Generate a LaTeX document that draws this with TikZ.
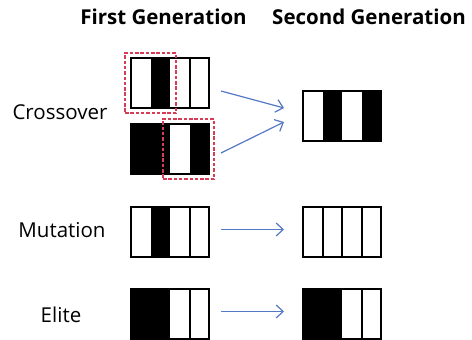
\documentclass[tikz,border=0pt]{standalone}
\usepackage{fontspec}
\setmainfont{Open Sans}
\usetikzlibrary{arrows.meta}
\definecolor{arrowblue}{RGB}{84,120,196}
\definecolor{dashred}{RGB}{214,60,86}
\begin{document}
\begin{tikzpicture}[x=1pt,y=-1pt,
  chrom/.style={draw=black,line width=2pt,inner sep=0pt,minimum width=78pt,minimum height=50pt},
  cellsep/.style={line width=2pt},
  sel/.style={draw=dashred,line width=1.3pt,dash pattern=on 3.5pt off 1.8pt},
  conn/.style={draw=arrowblue,line width=1.2pt,-{Straight Barb[length=7pt,width=13pt,line width=1.2pt]}},
  lbl/.style={font=\fontsize{20.5}{22}\selectfont,inner sep=0pt},
  hdr/.style={font=\fontsize{20.5}{22}\selectfont\bfseries,inner sep=0pt}]
\useasboundingbox (0,0) rectangle (472,340);
% headers
\node[hdr] (h1) at (163.5,17) {First Generation};
\node[hdr] (h2) at (369,17) {Second Generation};
% labels
\node[lbl] (lc) at (60,112) {Crossover};
\node[lbl] (lm) at (62,230) {Mutation};
\node[lbl] (le) at (61,315) {Elite};
% crossover parent 1
\fill (150.5,58) rectangle (170,108);
\draw[cellsep] (189.5,58) -- (189.5,108);
\node[chrom] (p1) at (170,83) {};
% crossover parent 2
\fill (131,124) rectangle (170,174);
\fill (189.5,124) rectangle (209,174);
\node[chrom] (p2) at (170,149) {};
% selections
\node[sel,minimum width=51pt,minimum height=60pt,inner sep=0pt] (s1) at (150.5,83) {};
\node[sel,minimum width=51pt,minimum height=60pt,inner sep=0pt] (s2) at (188.5,149) {};
% crossover child
\fill (322.5,91) rectangle (342,141);
\fill (361.5,91) rectangle (381,141);
\node[chrom] (c1) at (342,116) {};
% mutation
\fill (150.5,207) rectangle (170,257);
\draw[cellsep] (189.5,207) -- (189.5,257);
\node[chrom] (p3) at (170,232) {};
\draw[cellsep] (322.5,207) -- (322.5,257);
\draw[cellsep] (342,207) -- (342,257);
\draw[cellsep] (361.5,207) -- (361.5,257);
\node[chrom] (c2) at (342,232) {};
% elite
\fill (131,289) rectangle (170,339);
\draw[cellsep] (189.5,289) -- (189.5,339);
\node[chrom] (p4) at (170,314) {};
\fill (303,289) rectangle (342,339);
\draw[cellsep] (361.5,289) -- (361.5,339);
\node[chrom] (c3) at (342,314) {};
% arrows
\coordinate (a1s) at (221,91);
\coordinate (a1e) at (284,108);
\coordinate (a2s) at (221,153);
\coordinate (a2e) at (284,122);
\coordinate (a3s) at (221,229.5);
\coordinate (a3e) at (284,229.5);
\coordinate (a4s) at (221,311.5);
\coordinate (a4e) at (284,311.5);
\draw[conn] (a1s) -- (a1e);
\draw[conn] (a2s) -- (a2e);
\draw[conn] (a3s) -- (a3e);
\draw[conn] (a4s) -- (a4e);
\end{tikzpicture}
\end{document}
